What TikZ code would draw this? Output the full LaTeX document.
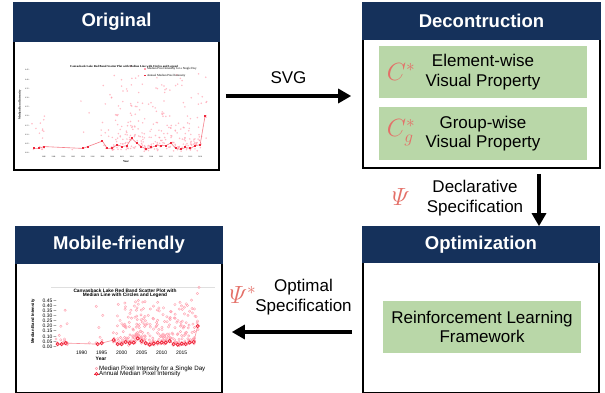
\documentclass[tikz,border=0pt]{standalone}
\usepackage[no-math]{fontspec}
\setmainfont{Liberation Sans}
\newfontfamily\plotserif{Liberation Serif}
\usepackage{xcolor}
\usepackage{amsmath}
\usepackage{tikz}
\usetikzlibrary{calc}
\usetikzlibrary{arrows.meta}
\usetikzlibrary{positioning}
\definecolor{navy}{RGB}{21,49,91}
\definecolor{sage}{RGB}{185,215,168}
\definecolor{coral}{RGB}{228,112,104}
\definecolor{dotpink}{RGB}{255,160,175}
\definecolor{medred}{RGB}{240,40,60}
\tikzset{>=latex}
\tikzstyle{panel} = [rectangle, draw=black, line width=1.6pt, fill=white, inner sep=0pt]
\tikzstyle{head} = [rectangle, fill=navy, text=white, inner sep=0pt, font=\bfseries\fontsize{18.5}{20}\selectfont]
\tikzstyle{card} = [rectangle, fill=sage, align=center, inner sep=0pt, font=\fontsize{17}{19.5}\selectfont]
\tikzstyle{sym} = [text=coral, inner sep=0pt, font=\fontsize{24}{24}\selectfont]
\tikzstyle{lbl} = [align=center, inner sep=0pt, font=\fontsize{17}{19.5}\selectfont]
\tikzstyle{flow} = [line width=3.2pt, -{Triangle[length=13pt, width=14pt]}]
\tikzstyle{serifnote} = [inner sep=0pt, font=\plotserif\fontsize{3}{3.5}\selectfont]
\tikzstyle{sansnote} = [inner sep=0pt, font=\fontsize{5}{5}\selectfont]

\def\dotlist{1984/0.025/3, 1985/0.025/3, 1986/0.035/9, 1992/0.02/1, 1994/0.025/3, 1995/0.035/3, 1998/0.065/5, 1999/0.025/6, 2000/0.025/14, 2001/0.045/14, 2002/0.035/14, 2003/0.04/16, 2004/0.08/22, 2005/0.055/18, 2006/0.035/14, 2007/0.02/14, 2008/0.03/14, 2009/0.04/16, 2010/0.04/16, 2011/0.04/14, 2012/0.055/14, 2013/0.025/14, 2014/0.02/14, 2015/0.03/16, 2016/0.025/16, 2017/0.04/14, 2018/0.045/14, 2019/0.20/6}
\def\medlist{1984/0.025, 1985/0.025, 1986/0.035, 1994/0.025, 1995/0.035, 1998/0.065, 1999/0.025, 2000/0.025, 2001/0.045, 2002/0.035, 2003/0.04, 2004/0.08, 2005/0.055, 2006/0.035, 2007/0.02, 2008/0.03, 2009/0.04, 2010/0.04, 2011/0.04, 2012/0.055, 2013/0.025, 2014/0.02, 2015/0.03, 2016/0.025, 2017/0.04, 2018/0.045, 2019/0.20}
\newcommand{\bandscatter}[2]{%
  \foreach \yr/\md/\n in \dotlist {
    \foreach \k in {1,...,\n} {
      \pgfmathsetmacro\rr{rnd}
      \pgfmathsetmacro\xx{\yr+0.9*(rnd-0.5)}
      \pgfmathsetmacro\vv{\md*(0.3+1.4*rnd)+0.4*\rr^3}
      \path [#1] (\xx, \vv) circle [radius=#2];
    }
  }}

\begin{document}
\begin{tikzpicture}[x=1pt, y=-1pt]
\useasboundingbox (0, 0) rectangle (605, 393);

\node [panel, minimum width=205pt, minimum height=167pt] (orig) at (116.5, 86.5) {};
\node [head, minimum width=206.6pt, minimum height=40.8pt, anchor=north] (origHead) at ([yshift=0.8pt]orig.north) {Original};
\node [panel, minimum width=237pt, minimum height=165pt] (decon) at (481.5, 85.5) {};
\node [head, minimum width=238.6pt, minimum height=38.8pt, anchor=north] (deconHead) at ([yshift=0.8pt]decon.north) {Decontruction};
\node [panel, minimum width=236pt, minimum height=166pt] (opti) at (481, 310) {};
\node [head, minimum width=237.6pt, minimum height=37.8pt, anchor=north] (optiHead) at ([yshift=0.8pt]opti.north) {Optimization};
\node [panel, minimum width=206pt, minimum height=166pt] (mobile) at (119, 310) {};
\node [head, minimum width=207.6pt, minimum height=38.8pt, anchor=north] (mobileHead) at ([yshift=0.8pt]mobile.north) {Mobile-friendly};

\pgfmathsetseed{11}
\begin{scope}[shift={(34, 153)}, x=4.886pt, y=183.6pt, shift={(-1984, 0)}]
\bandscatter{fill=dotpink, fill opacity=0.7}{0.85pt}
\draw [medred!60, line width=0.6pt] (1984, 0.025) \foreach \yr/\md in \medlist {-- (\yr, \md)};
\foreach \yr/\md in \medlist {\fill [medred] (\yr, \md) +(-1pt, -1pt) rectangle +(1pt, 1pt);}
\foreach \t in {0.00, 0.05, 0.10, 0.15, 0.20, 0.25, 0.30, 0.35, 0.40, 0.45}
  \node [serifnote, font=\plotserif\fontsize{1.9}{2}\selectfont, anchor=east] at (1983.2, \t) {\t\ –};
\foreach \yr in {1986, 1988, ..., 2018}
  \node [serifnote, font=\plotserif\fontsize{1.9}{2}\selectfont] at (\yr, -0.022) {\yr};
\end{scope}
\node [serifnote, font=\plotserif\bfseries\fontsize{3}{3.5}\selectfont] (origTitle) at (124, 66.5) {Canvasback Lake Red Band Scatter Plot with Median Line with Circles and Legend};
\fill [dotpink] (144, 68.3) rectangle (145.6, 69.9);
\node [serifnote, font=\plotserif\fontsize{3.1}{3.5}\selectfont, anchor=west] (origKeyDay) at (147, 69) {Median Pixel Intensity for a Single Day};
\fill [medred] (144, 74.7) rectangle (145.6, 76.3);
\node [serifnote, font=\plotserif\fontsize{3.1}{3.5}\selectfont, anchor=west] (origKeyYear) at (147, 75.5) {Annual Median Pixel Intensity};
\node [serifnote, font=\plotserif\bfseries\fontsize{3}{3.5}\selectfont, rotate=90] (origYLabel) at (20, 105) {Median Band Intensity};
\node [serifnote, font=\plotserif\bfseries\fontsize{3}{3.5}\selectfont] (origXLabel) at (126, 162) {Year};

\draw [gray!25, line width=0.4pt] (51, 287) -- (215, 287);
\begin{scope}[shift={(57.7, 346.7)}, x=4pt, y=103pt, shift={(-1984, 0)}]
\bandscatter{draw=dotpink, line width=0.4pt}{1.2pt}
\draw [medred!50, line width=0.6pt] (1984, 0.025) \foreach \yr/\md in \medlist {-- (\yr, \md)};
\foreach \yr/\md in \medlist {\draw [medred, line width=0.8pt, fill=dotpink!40] (\yr, \md) circle [radius=1.6pt];}
\foreach \t in {0.00, 0.05, 0.10, 0.15, 0.20, 0.25, 0.30, 0.35, 0.40, 0.45}
  \node [sansnote, anchor=east] at (1983.75, \t) {\t\ –};
\foreach \yr in {1990, 1995, ..., 2015}
  \node [sansnote] at (\yr, -0.055) {\yr};
\end{scope}
\node [sansnote, font=\bfseries\fontsize{4.8}{4.4}\selectfont, align=center] (mobileTitle) at (125, 293) {Canvasback Lake Red Band Scatter Plot with\\Median Line with Circles and Legend};
\node [sansnote, font=\bfseries\fontsize{4.2}{4.2}\selectfont, rotate=90] (mobileYLabel) at (33, 321.5) {Median Band Intensity};
\node [sansnote, font=\bfseries\fontsize{5}{5}\selectfont] (mobileXLabel) at (101, 359) {Year};
\draw [dotpink, line width=0.5pt] (96.5, 368.5) circle [radius=1.2pt];
\node [sansnote, font=\fontsize{6.2}{6.2}\selectfont, anchor=west] (mobileKeyDay) at (99, 368.5) {Median Pixel Intensity for a Single Day};
\draw [medred, line width=0.6pt] (94.3, 373.8) -- (98.7, 373.8);
\draw [medred, line width=0.8pt, fill=dotpink!40] (96.5, 373.8) circle [radius=1.4pt];
\node [sansnote, font=\fontsize{6.2}{6.2}\selectfont, anchor=west] (mobileKeyYear) at (99, 373.8) {Annual Median Pixel Intensity};

\node [card, minimum width=208pt, minimum height=52pt] (elem) at (483, 72) {Element-wise\\Visual Property};
\node [card, minimum width=208pt, minimum height=53pt] (group) at (483, 133.5) {Group-wise\\Visual Property};
\node [card, minimum width=198pt, minimum height=52pt] (rl) at (482, 327) {Reinforcement Learning\\Framework};
\node [sym] (cElem) at (401, 72) {$C^*$};
\node [sym] (cGroup) at (401, 133) {$C_g^*$};

\draw [flow] ([xshift=6pt, yshift=-9.5pt]orig.east) -- ([xshift=-11pt, yshift=-10.5pt]decon.west);
\node [lbl] (svgLabel) at (288.5, 78) {SVG};
\draw [flow] ([xshift=57.5pt, yshift=-5pt]decon.south) -- ([xshift=58pt]opti.north);
\node [sym] (psi) at (401, 197) {$\varPsi$};
\node [lbl] (declLabel) at (475, 198) {Declarative\\Specification};
\draw [flow] ([xshift=-10pt, yshift=-22pt]opti.west) -- ([xshift=9pt, yshift=-22pt]mobile.east);
\node [sym] (psiStar) at (243, 295) {$\varPsi^*$};
\node [lbl] (optLabel) at (303.5, 297) {Optimal\\Specification};
\end{tikzpicture}
\end{document}
